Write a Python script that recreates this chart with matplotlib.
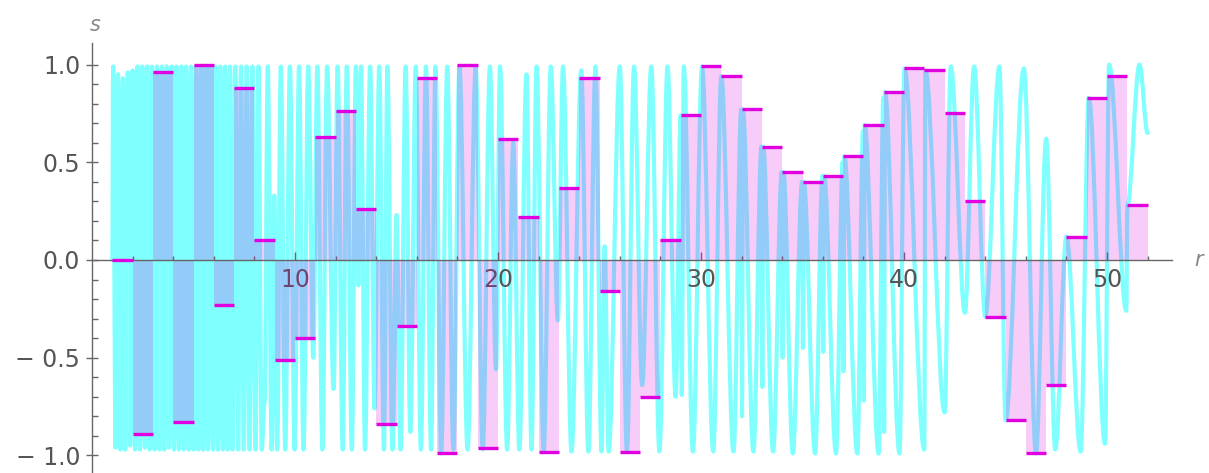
import matplotlib
matplotlib.use("Agg")
import matplotlib.pyplot as plt
from matplotlib.path import Path
from matplotlib.patches import PathPatch

# bar values s(n) on [n, n+1), n = 1..51
bar_n = list(range(1, 52))
bar_s = [0.00, -0.89, 0.96, -0.83, 1.00, -0.23, 0.88, 0.10, -0.51, -0.40,
         0.63, 0.76, 0.26, -0.84, -0.34, 0.93, -0.99, 1.00, -0.96, 0.62,
         0.22, -0.98, 0.37, 0.93, -0.16, -0.98, -0.70, 0.10, 0.74, 0.99,
         0.94, 0.77, 0.58, 0.45, 0.40, 0.43, 0.53, 0.69, 0.86, 0.98,
         0.97, 0.75, 0.30, -0.29, -0.82, -0.99, -0.64, 0.12, 0.83, 0.94,
         0.28]

# turning points of the cyan curve (peaks and troughs)
curve_r = [1.00, 1.04, 1.16, 1.28, 1.40, 1.52, 1.64, 1.76, 1.88, 2.00,
           2.12, 2.24, 2.36, 2.48, 2.60, 2.72, 2.84, 2.96, 3.08, 3.20,
           3.32, 3.44, 3.56, 3.68, 3.80, 3.92, 4.04, 4.16, 4.28, 4.40,
           4.52, 4.64, 4.76, 4.88, 5.00, 5.12, 5.24, 5.36, 5.48, 5.60,
           5.72, 5.84, 5.96, 6.08, 6.20, 6.32, 6.44, 6.56, 6.68, 6.80,
           6.92, 7.06, 7.20, 7.34, 7.48, 7.62, 7.76, 7.90, 8.05, 8.20,
           8.36, 8.50, 8.66, 8.85, 8.98, 9.12, 9.30, 9.52, 9.75, 9.98,
           10.20, 10.42, 10.65, 10.90, 11.10, 11.35, 11.58, 11.90, 12.10, 12.35,
           12.55, 12.80, 13.00, 13.12, 13.25, 13.45, 13.70, 13.92, 14.15, 14.38,
           14.55, 14.80, 15.00, 15.20, 15.45, 15.68, 15.95, 16.20, 16.45, 16.70,
           16.92, 17.20, 17.50, 17.80, 18.10, 18.50, 18.90, 19.25, 19.60, 19.90,
           20.10, 20.45, 20.75, 21.05, 21.40, 21.65, 21.90, 22.25, 22.60, 22.95,
           23.20, 23.62, 24.10, 24.45, 24.80, 25.10, 25.25, 25.45, 26.00, 26.35,
           26.70, 27.10, 27.55, 27.95, 28.35, 28.75, 29.00, 29.05, 29.15, 29.60,
           30.05, 30.60, 31.00, 31.60, 31.98, 32.02, 32.06, 32.58, 32.98, 33.02,
           33.06, 33.55, 33.98, 34.02, 34.06, 34.52, 34.98, 35.02, 35.06, 35.62,
           35.98, 36.02, 36.06, 36.65, 36.98, 37.02, 37.06, 37.70, 37.98, 38.02,
           38.06, 38.75, 38.98, 39.02, 39.06, 39.78, 40.02, 41.00, 41.05, 42.00,
           42.30, 43.00, 43.45, 44.00, 44.70, 45.00, 45.90, 46.50, 47.00, 47.45,
           48.00, 48.70, 49.10, 49.90, 50.10, 50.95, 51.00, 51.60, 52.00]
curve_s = [0.00, 0.99, -0.96, 0.95, -0.97, 0.93, -0.97, 0.96, -0.95, 0.97,
           -0.97, 0.99, -0.97, 0.99, -0.96, 0.99, -0.97, 0.99, -0.97, 0.99,
           -0.97, 0.99, -0.97, 0.99, -0.96, 0.99, -0.97, 0.99, -0.97, 0.99,
           -0.97, 0.99, -0.97, 0.99, -0.97, 0.99, -0.97, 0.99, -0.97, 0.99,
           -0.97, 0.99, -0.97, 0.99, -0.97, 0.99, -0.97, 0.99, -0.97, 0.99,
           -0.97, 0.99, -0.97, 0.99, -0.97, 0.99, -0.97, 0.99, -0.97, 0.99,
           -0.97, -0.73, 0.99, -0.97, 0.33, -0.97, 0.99, -0.97, 0.99, -0.97,
           0.99, -0.97, 0.99, -0.50, 0.99, -0.97, 0.99, -0.66, 0.99, -0.97,
           0.99, -0.97, 0.99, -0.13, 0.99, -0.97, 0.99, -0.76, 0.99, -0.97,
           0.99, -0.97, 0.23, -0.97, 0.99, -0.88, 0.99, -0.97, 0.99, -0.97,
           0.99, -0.99, 0.99, -0.97, 0.99, -0.97, 0.99, -0.97, 0.99, -0.56,
           0.99, -0.97, 0.60, -0.97, 0.95, -0.97, 0.99, -0.98, 0.99, -0.31,
           0.99, -0.98, 0.97, -0.98, 0.99, -0.98, 0.07, -0.98, 0.99, -0.98,
           0.99, -0.64, 0.99, -0.98, 0.99, -0.70, 0.74, -0.69, 0.99, -0.98,
           0.99, -0.98, 0.94, -0.98, 0.77, -0.80, 0.77, -0.98, 0.58, -0.65,
           0.58, -0.98, 0.45, -0.50, 0.45, -0.99, 0.40, -0.45, 0.40, -0.99,
           0.43, -0.47, 0.43, -0.99, 0.50, -0.57, 0.53, -0.99, 0.66, -0.72,
           0.69, -0.99, 0.83, -0.88, 0.86, -0.99, 0.98, -0.97, 0.97, -0.78,
           0.99, -0.27, 0.99, -0.29, 0.99, -0.82, 0.98, -0.99, 0.62, -0.97,
           0.12, -0.98, 0.83, -0.94, 1.00, -0.26, 0.28, 1.00, 0.65]

CYAN = "#80ffff"
MAGENTA = "#e000e0"
GREY = "#666666"
LABEL = "#555555"

# smooth the turning points the way a sine wave rounds off (flat at each extremum)
verts = [(curve_r[0], curve_s[0])]
codes = [Path.MOVETO]
for (r0, s0), (r1, s1) in zip(zip(curve_r[:-1], curve_s[:-1]),
                              zip(curve_r[1:], curve_s[1:])):
    dr = r1 - r0
    verts += [(r0 + 0.36 * dr, s0), (r1 - 0.36 * dr, s1), (r1, s1)]
    codes += [Path.CURVE4] * 3

fig = plt.figure(figsize=(12.09, 4.73), dpi=100)
ax = fig.add_axes([0.0761, 0.0, 0.8933, 0.909])

ax.add_patch(PathPatch(Path(verts, codes), facecolor="none", edgecolor=CYAN,
                       lw=3.0, capstyle="round", joinstyle="round", zorder=1))

ax.bar(bar_n, bar_s, width=1.0, align="edge", color=MAGENTA, alpha=0.2,
       linewidth=0, zorder=2)
ax.hlines(bar_s, bar_n, [n + 1 for n in bar_n], color=MAGENTA, lw=2.4, zorder=3)

ax.set_xlim(0, 53.2)
ax.set_ylim(-1.09, 1.11)

ax.spines[["top", "right"]].set_visible(False)
ax.spines["bottom"].set_position(("data", 0))
for sp in ("left", "bottom"):
    ax.spines[sp].set_color(GREY)
    ax.spines[sp].set_linewidth(1.0)

ax.set_xticks([10, 20, 30, 40, 50])
ax.set_xticks([n for n in range(2, 53, 2) if n % 10], minor=True)
ax.set_yticks([-1.0, -0.5, 0.0, 0.5, 1.0])
ax.set_yticklabels(["\u2212 1.0", "\u2212 0.5", "0.0", "0.5", "1.0"])
ax.set_yticks([v / 10 for v in range(-10, 11) if v % 5], minor=True)

ax.tick_params(axis="x", which="major", direction="in", length=6, width=1,
               color=GREY, labelcolor=LABEL, labelsize=17, pad=6)
ax.tick_params(axis="x", which="minor", direction="in", length=3, width=1, color=GREY)
ax.tick_params(axis="y", which="major", direction="inout", length=9, width=1,
               color=GREY, labelcolor=LABEL, labelsize=17, pad=4)
ax.tick_params(axis="y", which="minor", direction="in", length=4, width=1, color=GREY)

ax.text(0.15, 1.15, "s", fontsize=15, style="italic", color="#888888",
        ha="center", va="bottom", clip_on=False)
ax.text(54.5, 0.0, "r", fontsize=15, style="italic", color="#888888",
        ha="center", va="center", clip_on=False)

fig.savefig("out.png", dpi=100)
